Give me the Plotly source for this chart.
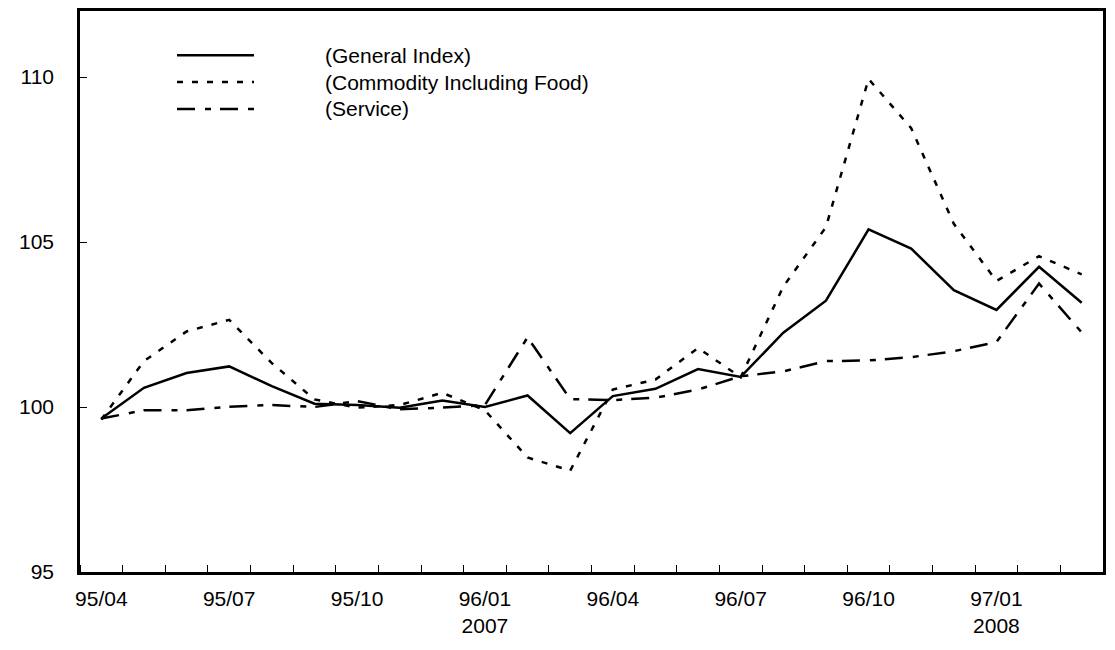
import plotly.graph_objects as go

# monthly index, 95/04 .. 97/03
months = ["95/04", "95/05", "95/06", "95/07", "95/08", "95/09", "95/10", "95/11",
          "95/12", "96/01", "96/02", "96/03", "96/04", "96/05", "96/06", "96/07",
          "96/08", "96/09", "96/10", "96/11", "96/12", "97/01", "97/02", "97/03"]

general = [99.65, 100.58, 101.03, 101.23, 100.63, 100.10, 100.06, 99.98, 100.20, 100.00,
           100.35, 99.21, 100.33, 100.55, 101.15, 100.91, 102.25, 103.22, 105.38, 104.80,
           103.54, 102.94, 104.25, 103.16]
commodity = [99.62, 101.39, 102.29, 102.64, 101.33, 100.23, 99.98, 100.06, 100.43, 99.90,
             98.47, 98.07, 100.53, 100.83, 101.79, 100.90, 103.65, 105.45, 109.94, 108.45,
             105.55, 103.82, 104.57, 104.02]
service = [99.65, 99.90, 99.90, 100.01, 100.06, 100.00, 100.18, 99.93, 99.98, 100.06,
           102.11, 100.24, 100.21, 100.28, 100.53, 100.93, 101.08, 101.39, 101.41, 101.51,
           101.69, 101.97, 103.74, 102.26]

year_labels = {"96/01": "2007", "97/01": "2008"}
series_names = ["(General Index)", "(Commodity Including Food)", "(Service)"]
y_ticks = [95, 100, 105, 110]

FONT = "Arial, Liberation Sans, sans-serif"
DASHES = ["solid", "6px,9px", "18px,10px,6px,9px"]

x = list(range(len(months)))
tick_idx = x[::3]
tick_text = []
for i in tick_idx:
    m = months[i]
    tick_text.append(m + "<br>" + year_labels[m] if m in year_labels else m)

fig = go.Figure()
for name, vals, dash in zip(series_names, [general, commodity, service], DASHES):
    fig.add_trace(go.Scatter(x=x, y=vals, mode="lines", name=name, showlegend=False,
                             line=dict(color="black", width=2.5, dash=dash)))

# page body has an 8px margin, so the figure is a bit smaller than the window
FW, FH = 1107, 642
L, R, T, B = 72, 12, 0, 78
W, H = FW - L - R, FH - T - B

# hand made legend (long line samples, text set well to the right)
legend_y = [44.5, 71.5, 98.5]
for name, dash, py in zip(series_names, DASHES, legend_y):
    yy = (FH - B - py) / H
    fig.add_shape(type="line", xref="paper", yref="paper",
                  x0=(169 - L) / W, x1=(246 - L) / W, y0=yy, y1=yy,
                  line=dict(color="black", width=2.5, dash=dash))
    fig.add_annotation(text=name, xref="paper", yref="paper", x=(315 - L) / W, y=yy,
                       xanchor="left", yanchor="middle", showarrow=False,
                       font=dict(family=FONT, size=21, color="black"))

fig.update_layout(
    width=FW, height=FH,
    margin=dict(l=L, r=R, t=T, b=B),
    paper_bgcolor="white", plot_bgcolor="white",
    font=dict(family=FONT, size=21, color="black"),
    showlegend=False,
)
fig.update_xaxes(
    range=[-0.5, len(months) - 0.5], tickmode="array", tickvals=tick_idx, ticktext=tick_text,
    ticks="", showgrid=False, zeroline=False,
    showline=True, linecolor="black", linewidth=2.5, mirror=True,
    ticklabelstandoff=6,
    minor=dict(tickmode="linear", tick0=0.5, dtick=1, ticks="inside", ticklen=7,
               tickcolor="black", tickwidth=1, showgrid=False),
)
fig.update_yaxes(
    range=[95, 112], tickmode="array", tickvals=y_ticks,
    ticks="inside", ticklen=7, tickcolor="black", tickwidth=1,
    showgrid=False, zeroline=False,
    showline=True, linecolor="black", linewidth=2.5, mirror=True,
    ticklabelstandoff=19,
)

fig.write_html("out.html")
